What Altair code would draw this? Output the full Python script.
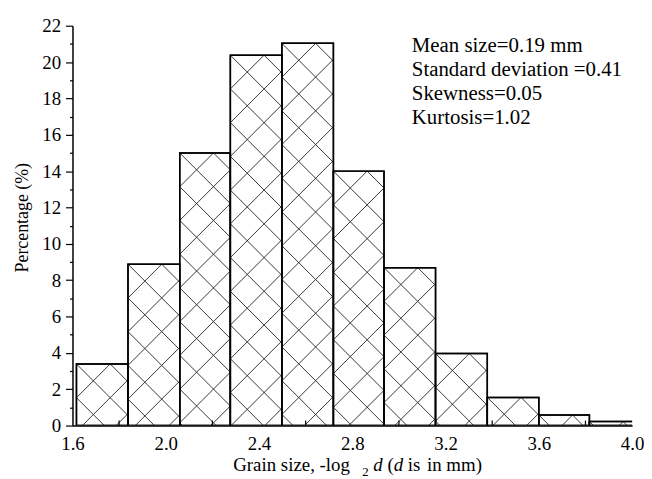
import numpy as np
import pandas as pd
import altair as alt

# ---- data ----
bin_left = [1.617, 1.838, 2.060, 2.277, 2.498, 2.719, 2.936, 3.157, 3.379, 3.600, 3.817]
bin_right = [1.838, 2.060, 2.277, 2.498, 2.719, 2.936, 3.157, 3.379, 3.600, 3.817, 4.038]
percent = [3.39, 8.88, 15.0, 20.38, 21.03, 14.0, 8.69, 3.96, 1.55, 0.58, 0.22]
x_labels = [1.6, 2.0, 2.4, 2.8, 3.2, 3.6, 4.0]
x_minor = [1.8, 2.2, 2.6, 3.0, 3.4, 3.8]
y_ticks = list(range(0, 23))
stats_lines = ["Mean size=0.19 mm", "Standard deviation =0.41", "Skewness=0.05", "Kurtosis=1.02"]

# ---- layout / style ----
W, H = 564, 403
XMIN, XMAX, YMIN, YMAX = 1.6, 4.0, 0, 22
FONT = "Liberation Serif"
sx = W / (XMAX - XMIN)
sy = H / (YMAX - YMIN)
P = 34  # hatch period in px

bars = pd.DataFrame({"x0": bin_left, "x1": bin_right, "p": percent})

# cross-hatch segments derived from each bar (anchored at its top-left corner)
segs = []
for L, R, top in zip(bin_left, bin_right, percent):
    w = (R - L) * sx
    h = top * sy
    for k in range(int(np.floor(-h / P)), int(np.ceil(w / P)) + 1):
        c = k * P
        u0, u1 = max(0, c), min(w, c + h)
        if u1 - u0 > 0.5:
            segs.append((L + u0 / sx, top - (u0 - c) / sy, L + u1 / sx, top - (u1 - c) / sy))
    for k in range(0, int(np.ceil((w + h) / P)) + 1):
        c = k * P
        u0, u1 = max(0, c - h), min(w, c)
        if u1 - u0 > 0.5:
            segs.append((L + u0 / sx, top - (c - u0) / sy, L + u1 / sx, top - (c - u1) / sy))
hatch = pd.DataFrame(segs, columns=["xa", "ya", "xb", "yb"])

xscale = alt.Scale(domain=[XMIN, XMAX], nice=False, zero=False)
yscale = alt.Scale(domain=[YMIN, YMAX], nice=False)

xaxis = alt.Axis(values=x_labels, format=".1f", ticks=False, tickSize=0, labelPadding=9,
                 labelFont=FONT, labelFontSize=19, labelColor="black", domainColor="black",
                 domainWidth=1.5, grid=False, title=None, labelFlush=False, labelOverlap=False)
yaxis = alt.Axis(values=y_ticks, labelExpr="datum.value % 2 ? '' : datum.label",
                 tickSize={"condition": {"test": "datum.value % 2", "value": 3}, "value": 7},
                 tickColor="black", tickWidth=1.2, labelPadding=5, labelFont=FONT, labelFontSize=19,
                 labelColor="black", domainColor="black", domainWidth=1.5, grid=False, title=None,
                 labelOverlap=False, labelFlush=False)

bar_layer = alt.Chart(bars).mark_rect(fill="white", stroke="black", strokeWidth=1.5, clip=True).encode(
    x=alt.X("x0:Q", scale=xscale, axis=xaxis),
    x2="x1:Q",
    y=alt.Y("p:Q", scale=yscale, axis=yaxis),
    y2=alt.datum(0),
)

hatch_layer = alt.Chart(hatch).mark_rule(color="#222", strokeWidth=0.9, clip=True).encode(
    x=alt.X("xa:Q", scale=xscale, axis=xaxis), x2="xb:Q",
    y=alt.Y("ya:Q", scale=yscale, axis=yaxis), y2="yb:Q",
)

outline_layer = alt.Chart(bars).mark_rect(fill=None, stroke="black", strokeWidth=1.5, clip=True).encode(
    x=alt.X("x0:Q", scale=xscale, axis=xaxis), x2="x1:Q",
    y=alt.Y("p:Q", scale=yscale, axis=yaxis), y2=alt.datum(0),
)

minor_x = alt.Chart(pd.DataFrame({"t": x_minor})).mark_rule(color="black", strokeWidth=1.2).encode(
    x=alt.X("t:Q", scale=xscale, axis=xaxis), y=alt.value(H), y2=alt.value(H - 5),
)

one = pd.DataFrame({"a": [0]})
stats = alt.Chart(one).mark_text(align="left", baseline="alphabetic", font=FONT, fontSize=21,
                                 lineHeight=24, color="black").encode(
    x=alt.value(342), y=alt.value(26.7), text=alt.value(stats_lines))

ytitle = alt.Chart(one).mark_text(angle=270, align="center", baseline="middle", font=FONT,
                                  fontSize=18, color="black").encode(
    x=alt.value(-50), y=alt.value(193.5), text=alt.value("Percentage (%)"))

# x title in pieces (italic d, subscript 2)
x0 = 162
base_y = H + 46
pieces = [
    ("Grain size, -log", 0, 19, "normal", 0),
    ("2", 130.0, 13, "normal", 5),
    ("d", 141.0, 19, "italic", 0),
    ("(", 155.4, 19, "normal", 0),
    ("d", 161.7, 19, "italic", 0),
    ("is", 176.0, 19, "normal", 0),
    ("in mm)", 195.3, 19, "normal", 0),
]
xtitle_layers = []
for txt, dx, fs, style, dy in pieces:
    xtitle_layers.append(
        alt.Chart(one).mark_text(align="left", baseline="alphabetic", font=FONT, fontSize=fs,
                                 fontStyle=style, color="black").encode(
            x=alt.value(x0 + dx), y=alt.value(base_y + dy), text=alt.value(txt)))

chart = alt.layer(bar_layer, hatch_layer, outline_layer, minor_x, stats, ytitle, *xtitle_layers).properties(
    width=W, height=H,
    autosize=alt.AutoSizeParams(type="none"),
    padding={"left": 65, "top": 16, "right": 12, "bottom": 54},
).configure_view(stroke=None)

chart.save("out.html", embed_options={"renderer": "svg", "actions": False})
